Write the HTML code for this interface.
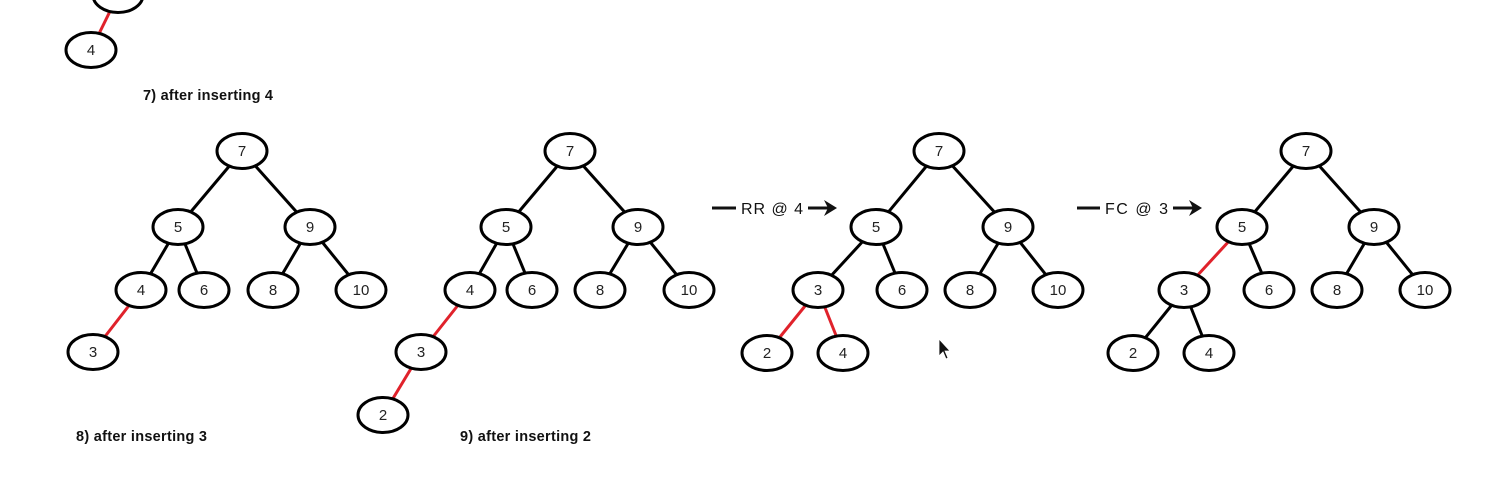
<!DOCTYPE html><html><head><style>body{margin:0;background:#fff}</style></head><body>
<svg width="1496" height="480" xmlns="http://www.w3.org/2000/svg" font-family="Liberation Sans, sans-serif">
<g stroke-width="3" id="edges"></g>
<g id="nodes"></g>
<g font-weight="bold" font-size="14.5" fill="#111">
<text x="143" y="100" textLength="130">7) after inserting 4</text>
<text x="76" y="441" textLength="131">8) after inserting 3</text>
<text x="460" y="441" textLength="131">9) after inserting 2</text>
</g>
<g font-size="16" fill="#111">
<line x1="712" y1="208" x2="736" y2="208" stroke="#111" stroke-width="3"/>
<text x="741" y="214" textLength="62">RR @ 4</text>
<line x1="808" y1="208" x2="828" y2="208" stroke="#111" stroke-width="3"/>
<path d="M824,200 L837,208 L824,216 L828,208Z" fill="#111"/>
<line x1="1077" y1="208" x2="1100" y2="208" stroke="#111" stroke-width="3"/>
<text x="1105" y="214" textLength="63">FC @ 3</text>
<line x1="1173" y1="208" x2="1193" y2="208" stroke="#111" stroke-width="3"/>
<path d="M1189,200 L1202,208 L1189,216 L1193,208Z" fill="#111"/>
</g>
<path d="M939,339 L939,356 L943,352 L946,359 L948,358 L945,351 L950,351Z" fill="#111" stroke="#fff" stroke-width="0.8"/>
<script>
const N=[["t",118,-5,""],["a",91,50,"4"],
["b7",242,151,"7"],["b5",178,227,"5"],["b9",310,227,"9"],["b4",141,290,"4"],["b6",204,290,"6"],["b8",273,290,"8"],["b10",361,290,"10"],["b3",93,352,"3"],
["c7",570,151,"7"],["c5",506,227,"5"],["c9",638,227,"9"],["c4",470,290,"4"],["c6",532,290,"6"],["c8",600,290,"8"],["c10",689,290,"10"],["c3",421,352,"3"],["c2",383,415,"2"],
["d7",939,151,"7"],["d5",876,227,"5"],["d9",1008,227,"9"],["d3",818,290,"3"],["d6",902,290,"6"],["d8",970,290,"8"],["d10",1058,290,"10"],["d2",767,353,"2"],["d4",843,353,"4"],
["e7",1306,151,"7"],["e5",1242,227,"5"],["e9",1374,227,"9"],["e3",1184,290,"3"],["e6",1269,290,"6"],["e8",1337,290,"8"],["e10",1425,290,"10"],["e2",1133,353,"2"],["e4",1209,353,"4"]];
const P={};N.forEach(n=>P[n[0]]=n);
const E=[["t","a",1]];
for(const p of "bcde"){E.push([p+"7",p+"5"],[p+"7",p+"9"],[p+"9",p+"8"],[p+"9",p+"10"],[p+"5",p+"6"]);}
E.push(["b5","b4"],["b4","b3",1],["c5","c4"],["c4","c3",1],["c3","c2",1],["d5","d3"],["d3","d2",1],["d3","d4",1],["e5","e3",1],["e3","e2"],["e3","e4"]);
const ns="http://www.w3.org/2000/svg";
const eg=document.getElementById("edges"),ng=document.getElementById("nodes");
E.forEach(e=>{const a=P[e[0]],b=P[e[1]];const l=document.createElementNS(ns,"line");
l.setAttribute("x1",a[1]);l.setAttribute("y1",a[2]);l.setAttribute("x2",b[1]);l.setAttribute("y2",b[2]);
l.setAttribute("stroke",e[2]?"#e0222b":"#000");l.setAttribute("stroke-width","3");eg.appendChild(l);});
N.forEach(n=>{const el=document.createElementNS(ns,"ellipse");el.setAttribute("cx",n[1]);el.setAttribute("cy",n[2]);
el.setAttribute("rx",25);el.setAttribute("ry",17.5);el.setAttribute("fill","#fff");el.setAttribute("stroke","#000");el.setAttribute("stroke-width","3");ng.appendChild(el);
if(n[3]){const t=document.createElementNS(ns,"text");t.setAttribute("x",n[1]);t.setAttribute("y",n[2]+5);t.setAttribute("text-anchor","middle");t.setAttribute("font-size","15");t.setAttribute("fill","#222");t.textContent=n[3];ng.appendChild(t);}});
</script>
</svg></body></html>
